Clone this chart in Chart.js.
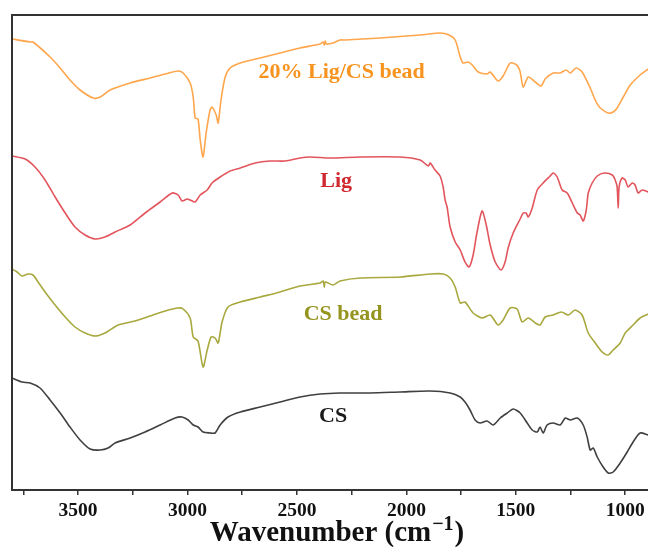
<!DOCTYPE html>
<html>
<head>
<meta charset="utf-8">
<script src="https://cdn.jsdelivr.net/npm/chart.js@4.4.1/dist/chart.umd.min.js"></script>
<style>
  html, body { margin: 0; padding: 0; background: #ffffff; overflow: hidden; }
  #wrap { width: 648px; height: 547px; overflow: hidden; position: relative; }
  canvas { display: block; }
</style>
</head>
<body>
<div id="wrap"><canvas id="c" width="680" height="547"></canvas></div>
<script>
// ---- Data (wavenumber in cm-1, offset transmittance in arbitrary units) ----
const seriesNames = ["20% Lig/CS bead", "Lig", "CS bead", "CS"];
const tickLabels = [3500, 3000, 2500, 2000, 1500, 1000];

const beadLigWn = [3802,3719,3706,3628,3582,3537,3491,3431,3399,3354,3262,3171,3102,3043,3020,2988,2974,2965,2952,2942,2929,2915,2897,2888,2869,2860,2847,2828,2805,2759,2668,2577,2486,2394,2380,2375,2371,2366,2335,2303,2280,2120,1937,1846,1805,1777,1754,1741,1718,1699,1672,1631,1617,1581,1558,1526,1503,1489,1480,1466,1443,1411,1384,1366,1329,1297,1270,1251,1224,1197,1160,1133,1114,1078,1055,1037,1009,977,932,895];
const beadLigT  = [451,448,448,433,422,410,400,392,393,400,407,412,416,419,417,407,393,372,371,350,333,357,380,383,375,367,390,413,422,427,432,437,442,446,448,445,449,446,447,450,450,452,455,457,455,450,433,427,428,425,418,416,418,409,414,427,426,423,418,403,413,408,404,411,417,417,420,417,422,418,402,388,382,377,378,382,393,405,415,421];

const ligWn = [3802,3742,3697,3651,3605,3559,3514,3468,3422,3377,3331,3262,3194,3125,3070,3043,3025,3002,2988,2965,2942,2910,2888,2851,2805,2759,2691,2623,2554,2486,2440,2348,2211,2029,1937,1900,1891,1869,1846,1832,1823,1814,1800,1777,1754,1732,1713,1695,1677,1654,1635,1617,1594,1567,1549,1535,1512,1480,1466,1453,1443,1425,1402,1375,1343,1329,1311,1288,1265,1242,1219,1206,1192,1178,1169,1151,1128,1096,1059,1046,1037,1032,1028,1014,1000,987,968,955,941,923,895];
const ligT  = [334,331,323,310,293,277,263,255,251,253,258,265,277,288,297,295,289,291,290,288,295,300,307,313,319,322,327,329,329,332,333,332,333,333,330,324,327,320,314,303,290,283,263,248,240,228,223,235,258,279,265,245,228,220,228,242,257,271,277,277,273,282,300,307,314,317,313,300,297,287,277,275,269,280,297,307,314,317,315,310,303,282,303,312,310,303,307,305,297,300,298];

const csBeadWn = [3802,3779,3756,3729,3706,3683,3651,3605,3559,3514,3468,3422,3377,3317,3240,3171,3102,3043,3020,2988,2974,2952,2929,2910,2892,2874,2860,2842,2815,2759,2668,2577,2486,2394,2380,2375,2371,2335,2303,2211,2029,1891,1832,1800,1777,1754,1732,1695,1654,1617,1581,1558,1526,1494,1471,1443,1411,1389,1366,1329,1292,1260,1229,1197,1169,1137,1105,1078,1055,1023,1000,964,932,895];
const csBeadT  = [221,218,214,216,215,208,198,185,173,163,157,154,157,165,169,174,179,182,181,172,153,149,123,140,153,152,147,168,183,188,193,198,204,207,209,203,208,205,209,212,213,216,216,212,203,187,188,177,172,175,165,170,182,181,168,172,167,165,173,175,178,175,180,175,157,147,138,135,140,147,157,165,172,176];

const csWn = [3802,3756,3719,3674,3628,3582,3537,3491,3445,3399,3363,3331,3262,3194,3125,3057,3025,2997,2974,2952,2929,2897,2874,2851,2815,2759,2668,2577,2486,2394,2303,2166,2029,1891,1800,1754,1732,1709,1686,1663,1631,1603,1571,1539,1512,1480,1448,1425,1402,1389,1375,1357,1329,1297,1274,1251,1219,1192,1174,1160,1146,1128,1101,1078,1055,1023,991,964,932,895];
const csT  = [112,108,107,102,90,77,63,50,41,40,42,47,52,58,65,72,73,70,65,63,58,57,57,65,73,78,83,88,93,96,97,97,98,99,97,93,88,80,70,67,69,65,72,77,81,77,67,60,58,63,57,65,67,65,72,70,72,65,53,40,42,33,23,17,18,27,38,48,57,55];

// label anchors (wavenumber, value) for the in-plot series names
const labelWn = [2296, 2321, 2289, 2335];
const labelT  = [412, 303, 170, 68];

const lineColors = ["#FFA64D", "#E2555C", "#A8A83E", "#404040"];
const textColors = ["#F7931E", "#D02A30", "#94941E", "#1a1a1a"];

function pts(xs, ys) { return xs.map((x, i) => ({ x: x, y: ys[i] })); }

const datasets = [
  { label: seriesNames[0], data: pts(beadLigWn, beadLigT) },
  { label: seriesNames[1], data: pts(ligWn, ligT) },
  { label: seriesNames[2], data: pts(csBeadWn, csBeadT) },
  { label: seriesNames[3], data: pts(csWn, csT) }
].map((d, i) => Object.assign(d, {
  borderColor: lineColors[i],
  borderWidth: 1.6,
  pointRadius: 0,
  fill: false,
  tension: 0.25
}));

const SERIF = '"Liberation Serif", "Times New Roman", serif';

const framePlugin = {
  id: 'frameAndText',
  afterDraw(chart) {
    const ctx = chart.ctx;
    const a = chart.chartArea;
    const xs = chart.scales.x, ys = chart.scales.y;
    ctx.save();
    // top and left frame lines
    ctx.strokeStyle = '#333333';
    ctx.lineWidth = 2;
    ctx.beginPath();
    ctx.moveTo(a.left, a.bottom);
    ctx.lineTo(a.left, a.top);
    ctx.lineTo(a.right, a.top);
    ctx.stroke();
    // series labels
    ctx.font = 'bold 22px ' + SERIF;
    ctx.textAlign = 'center';
    ctx.textBaseline = 'alphabetic';
    for (let i = 0; i < seriesNames.length; i++) {
      ctx.fillStyle = textColors[i];
      ctx.fillText(seriesNames[i], xs.getPixelForValue(labelWn[i]), ys.getPixelForValue(labelT[i]));
    }
    // axis title with superscript
    const main = 'Wavenumber (cm';
    const sup = '\u22121';
    const close = ')';
    const fMain = 'bold 29px ' + SERIF;
    const fSup = 'bold 20px ' + SERIF;
    ctx.font = fMain;
    const wMain = ctx.measureText(main).width;
    const wClose = ctx.measureText(close).width;
    ctx.font = fSup;
    const wSup = ctx.measureText(sup).width;
    const total = wMain + wSup + wClose;
    const cx = 336, base = 541;
    let x0 = cx - total / 2;
    ctx.textAlign = 'left';
    ctx.fillStyle = '#111111';
    ctx.font = fMain;
    ctx.fillText(main, x0, base);
    ctx.font = fSup;
    ctx.fillText(sup, x0 + wMain + 1, base - 11);
    ctx.font = fMain;
    ctx.fillText(close, x0 + wMain + wSup + 2, base);
    ctx.restore();
  }
};

new Chart(document.getElementById('c'), {
  type: 'line',
  data: { datasets: datasets },
  options: {
    responsive: false,
    animation: false,
    devicePixelRatio: 1,
    layout: { padding: { left: 12, top: 15, right: 11, bottom: 0 } },
    plugins: { legend: { display: false }, tooltip: { enabled: false } },
    scales: {
      x: {
        type: 'linear',
        reverse: true,
        min: 800,
        max: 3802,
        afterFit: (s) => { s.height = 57; },
        afterBuildTicks: (s) => {
          const t = [];
          for (let v = 3750; v >= 1000; v -= 250) t.push({ value: v });
          s.ticks = t;
        },
        border: { display: true, color: '#333333', width: 2 },
        grid: { display: true, drawOnChartArea: false, drawTicks: true, tickLength: 5, color: '#333333', lineWidth: 1.5 },
        ticks: {
          autoSkip: false,
          maxRotation: 0,
          padding: 4,
          color: '#111111',
          font: { family: SERIF, size: 19.5, weight: 'bold' },
          callback: (v) => tickLabels.includes(v) ? String(v) : ''
        }
      },
      y: {
        type: 'linear',
        display: false,
        min: 0,
        max: 475
      }
    }
  },
  plugins: [framePlugin]
});
</script>
</body>
</html>
